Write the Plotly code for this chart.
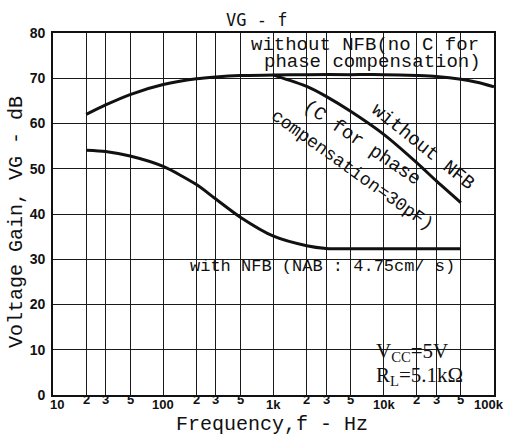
import math
import plotly.graph_objects as go

# ---------------- data ----------------
f_no_c = [20, 30, 50, 100, 200, 300, 500, 1000, 2000, 5000, 10000, 20000, 30000, 50000, 70000, 100000]
g_no_c = [62.0, 64.1, 66.4, 68.6, 69.9, 70.3, 70.6, 70.7, 70.8, 70.8, 70.8, 70.6, 70.4, 69.8, 69.1, 68.1]

f_c30 = [1000, 2000, 3000, 5000, 10000, 20000, 30000, 50000]
g_c30 = [70.7, 68.2, 66.0, 62.7, 57.6, 51.3, 47.3, 42.5]

f_nfb = [20, 30, 50, 100, 200, 300, 500, 1000, 2000, 3000, 5000, 10000, 20000, 50000]
g_nfb = [54.1, 53.8, 52.8, 50.5, 46.5, 43.3, 39.3, 35.1, 33.0, 32.4, 32.3, 32.3, 32.3, 32.3]

x_tick_vals = [10, 20, 30, 50, 100, 200, 300, 500, 1000, 2000, 3000, 5000,
               10000, 20000, 30000, 50000, 100000]
x_tick_text = ["10", "2", "3", "5", "100", "2", "3", "5", "1k", "2", "3", "5",
               "10k", "2", "3", "5", "100k"]
y_tick_vals = [0, 10, 20, 30, 40, 50, 60, 70, 80]

# ---------------- geometry ----------------
W, H = 508, 440
ML, MR, MT, MB = 53, 14, 33, 45
PW, PH = W - ML - MR, H - MT - MB
X_RANGE = [1, 5]
Y_RANGE = [0, 80]

MONO = "Liberation Mono"
SANS = "Liberation Sans"
SERIF = "Liberation Serif"
INK = "#111111"


def paper_of(lf, db):
    return (lf - X_RANGE[0]) / (X_RANGE[1] - X_RANGE[0]), (db - Y_RANGE[0]) / (Y_RANGE[1] - Y_RANGE[0])


def rot_rect_path(lf, db, angle, half_len, half_w):
    cx, cy = paper_of(lf, db)
    a = math.radians(angle)
    ux, uy = math.cos(a), math.sin(a)          # screen coords (y down)
    nx, ny = -math.sin(a), math.cos(a)
    pts = []
    for s, t in [(-1, -1), (1, -1), (1, 1), (-1, 1)]:
        dx = s * half_len * ux + t * half_w * nx
        dy = s * half_len * uy + t * half_w * ny
        pts.append((cx + dx / PW, cy - dy / PH))
    return "M " + " L ".join(f"{x:.4f},{y:.4f}" for x, y in pts) + " Z"


fig = go.Figure()

line_style = dict(color=INK, width=3, shape="spline", smoothing=0.7)
fig.add_trace(go.Scatter(x=f_no_c, y=g_no_c, mode="lines", line=line_style, hoverinfo="skip"))
fig.add_trace(go.Scatter(x=f_c30, y=g_c30, mode="lines", line=line_style, hoverinfo="skip"))
fig.add_trace(go.Scatter(x=f_nfb, y=g_nfb, mode="lines", line=line_style, hoverinfo="skip"))

shapes = []
# white masks behind labels (above grid, below curves)
mask = dict(type="rect", fillcolor="white", line=dict(width=0), layer="between")
shapes.append(dict(mask, xref="x", yref="y", x0=2.72, x1=5, y0=71.6, y1=80))
shapes.append(dict(mask, xref="x", yref="y", x0=2.11, x1=4.745, y0=25.3, y1=31.6))
shapes.append(dict(mask, xref="x", yref="y", x0=3.91, x1=5, y0=0, y1=11.4))
shapes.append(dict(type="line", xref="x", yref="y", x0=3.91, x1=3.91, y0=0, y1=10.4,
                   line=dict(color=INK, width=1.2), layer="between"))
shapes.append(dict(type="path", xref="paper", yref="paper", fillcolor="white", line=dict(width=0),
                   layer="between", path=rot_rect_path(4.355, 54.8, 38.7, 72, 11)))
shapes.append(dict(type="path", xref="paper", yref="paper", fillcolor="white", line=dict(width=0),
                   layer="between", path=rot_rect_path(3.75, 52.6, 35, 104, 22)))

annotations = []
# x tick labels (staggered like the original)
for i, (v, t) in enumerate(zip(x_tick_vals, x_tick_text)):
    decade = t not in ("2", "3", "5")
    xs = 0
    if i == 0:
        xs = 4
    elif i == len(x_tick_vals) - 1:
        xs = -5
    annotations.append(dict(x=math.log10(v), y=0, xref="x", yref="paper", text=t,
                            showarrow=False, xanchor="center", yanchor="middle",
                            yshift=-9 if decade else -4, xshift=xs,
                            font=dict(family=SANS, size=13, color=INK, weight="bold")))

# titles
annotations.append(dict(x=(256 - ML) / PW, y=1, xref="paper", yref="paper", yshift=13,
                        text="VG - f", showarrow=False, xanchor="center", yanchor="middle",
                        font=dict(family="DejaVu Sans Mono", size=17, color=INK)))
annotations.append(dict(x=(272 - ML) / PW, y=0, xref="paper", yref="paper", yshift=-29,
                        text="Frequency,f - Hz", showarrow=False, xanchor="center", yanchor="middle",
                        font=dict(family=MONO, size=20, color=INK)))
annotations.append(dict(x=0, y=(395 - 222) / PH, xref="paper", yref="paper", xshift=-36,
                        text="Voltage Gain, VG - dB", showarrow=False, textangle=-90,
                        xanchor="center", yanchor="middle",
                        font=dict(family=MONO, size=20, color=INK)))

# in-plot labels
annotations.append(dict(x=3.83, y=77.4, xref="x", yref="y", text="without NFB(no C for",
                        showarrow=False, xanchor="center", yanchor="middle",
                        font=dict(family=MONO, size=19, color=INK)))
annotations.append(dict(x=3.90, y=73.7, xref="x", yref="y", text="phase compensation)",
                        showarrow=False, xanchor="center", yanchor="middle",
                        font=dict(family=MONO, size=19, color=INK)))
annotations.append(dict(x=4.355, y=54.8, xref="x", yref="y", text="without NFB",
                        showarrow=False, textangle=38.7, xanchor="center", yanchor="middle",
                        font=dict(family=MONO, size=19, color=INK)))
annotations.append(dict(x=3.80, y=55.6, xref="x", yref="y", text="(C for phase",
                        showarrow=False, textangle=34, xanchor="center", yanchor="middle",
                        font=dict(family=MONO, size=19, color=INK)))
annotations.append(dict(x=3.709, y=49.7, xref="x", yref="y", text="compensation=30pF)",
                        showarrow=False, textangle=35.5, xanchor="center", yanchor="middle",
                        font=dict(family=MONO, size=18, color=INK)))
annotations.append(dict(x=3.445, y=28.4, xref="x", yref="y", text="with NFB (NAB : 4.75cm/ s)",
                        showarrow=False, xanchor="center", yanchor="middle",
                        font=dict(family=MONO, size=17, color=INK)))
annotations.append(dict(x=3.915, y=9.4, xref="x", yref="y", text="V<sub>CC</sub>=5V",
                        showarrow=False, xanchor="left", yanchor="middle",
                        font=dict(family=SERIF, size=21, color=INK)))
annotations.append(dict(x=3.915, y=4.3, xref="x", yref="y", text="R<sub>L</sub>=5.1kΩ",
                        showarrow=False, xanchor="left", yanchor="middle",
                        font=dict(family=SERIF, size=21, color=INK)))

fig.update_layout(
    width=W, height=H,
    margin=dict(l=ML, r=MR, t=MT, b=MB, pad=0),
    paper_bgcolor="white", plot_bgcolor="white",
    showlegend=False,
    shapes=shapes,
    annotations=annotations,
)
fig.update_xaxes(type="log", range=X_RANGE, tickvals=x_tick_vals, showticklabels=False,
                 showgrid=True, gridcolor="#1a1a1a", gridwidth=1, zeroline=False,
                 showline=True, linecolor=INK, linewidth=1.6, mirror=True, ticks="")
fig.update_yaxes(range=Y_RANGE, tickvals=y_tick_vals, showgrid=True, gridcolor="#1a1a1a",
                 gridwidth=1, zeroline=False, showline=True, linecolor=INK, linewidth=1.6,
                 mirror=True, ticks="", ticklabelstandoff=3,
                 tickfont=dict(family=SANS, size=14, color=INK, weight="bold"))

fig.write_html("out.html")
